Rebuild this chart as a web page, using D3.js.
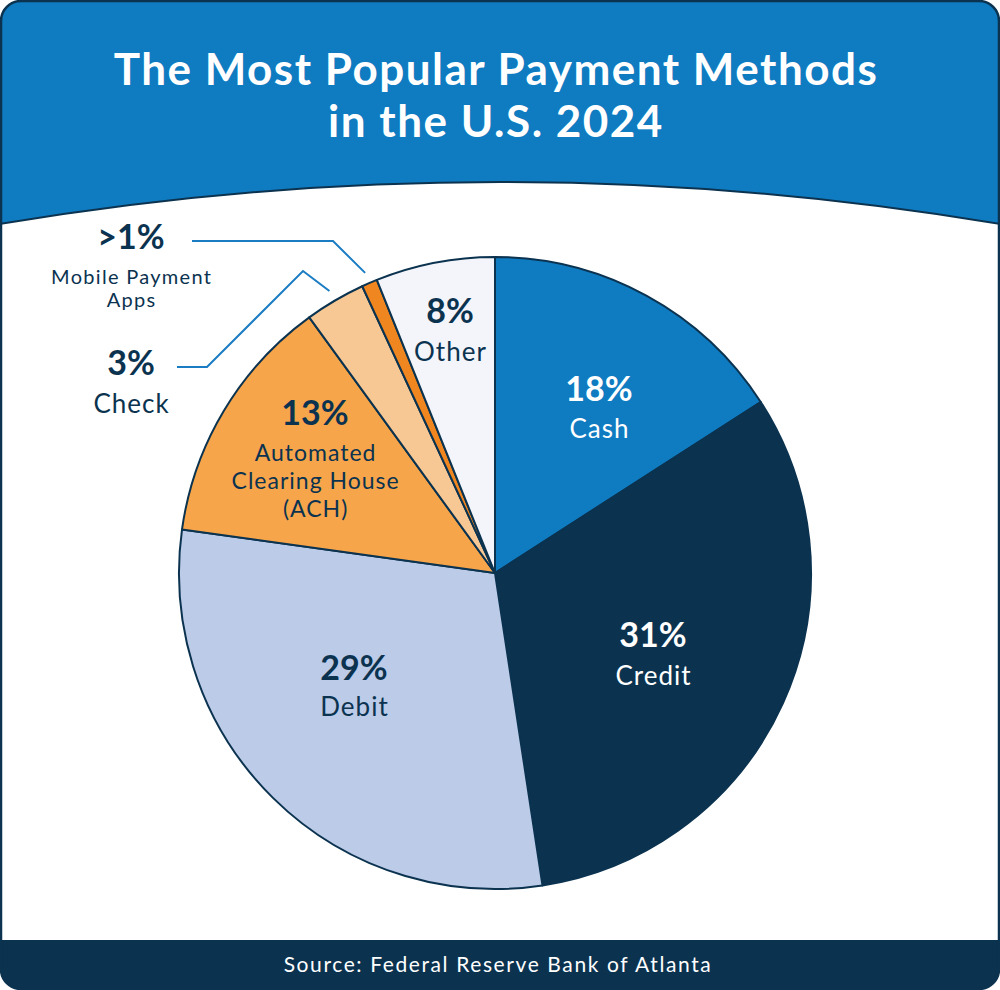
<!DOCTYPE html>
<html><head><meta charset="utf-8">
<script src="https://cdn.jsdelivr.net/npm/d3@7"></script>
<style>
html,body{margin:0;padding:0;background:#fff;}
svg{display:block;font-family:Lato, "Open Sans", sans-serif;}
</style></head>
<body>
<svg id="chart" width="1000" height="990"></svg>
<script>
// ---- data ----
const categories = ["Cash", "Credit", "Debit", "Automated Clearing House (ACH)", "Check", "Mobile Payment Apps", "Other"];
const shares = [15.9, 31.7, 29.6, 12.8, 3.1, 0.8, 6.1];          // slice sizes as drawn
const percentLabels = ["18%", "31%", "29%", "13%", "3%", ">1%", "8%"];
const nameLines = [["Cash"], ["Credit"], ["Debit"], ["Automated", "Clearing House", "(ACH)"], ["Check"], ["Mobile Payment", "Apps"], ["Other"]];
const colors = ["#0f7bc1", "#0b3350", "#bccbe8", "#f7a54a", "#f8c894", "#f0861f", "#f3f5fa"];
const titleLines = ["The Most Popular Payment Methods", "in the U.S. 2024"];
const source = "Source: Federal Reserve Bank of Atlanta";

const W = 1000, H = 990;
const navy = "#0b3350", blue = "#0f7bc1";
const svg = d3.select("#chart");

// frame + banner
svg.append("defs").append("clipPath").attr("id", "frame")
  .append("rect").attr("x", 1).attr("y", 1).attr("width", W - 2).attr("height", H - 2).attr("rx", 20);
const g0 = svg.append("g").attr("clip-path", "url(#frame)");
g0.append("rect").attr("width", W).attr("height", H).attr("fill", "#fff");
g0.append("path").attr("d", "M0,0 L1000,0 L1000,224 Q500,140 0,224 Z").attr("fill", blue);
g0.append("path").attr("d", "M0,224 Q500,140 1000,224").attr("fill", "none").attr("stroke", navy).attr("stroke-width", 2);
g0.append("rect").attr("x", 0).attr("y", 940).attr("width", W).attr("height", 60).attr("fill", navy);
svg.append("rect").attr("x", 1).attr("y", 1).attr("width", W - 2).attr("height", H - 2).attr("rx", 20)
  .attr("fill", "none").attr("stroke", navy).attr("stroke-width", 2.5);

// title
svg.append("text").attr("text-anchor", "middle").attr("fill", "#fff")
  .attr("font-size", 44).attr("font-weight", 700).attr("letter-spacing", 1.5)
  .selectAll("tspan").data(titleLines).join("tspan")
  .attr("x", 496).attr("y", (d, i) => 85 + i * 52).text(d => d);

// source
svg.append("text").attr("x", 498).attr("y", 972).attr("text-anchor", "middle")
  .attr("fill", "#fff").attr("font-size", 21).attr("letter-spacing", 1.6).text(source);

// pie
const cx = 495, cy = 573, R = 316;
const data = categories.map((c, i) => ({ name: c, value: shares[i], pct: percentLabels[i], lines: nameLines[i], color: colors[i] }));
const pie = d3.pie().value(d => d.value).sort(null);
const arcs = pie(data);
const arc = d3.arc().innerRadius(0).outerRadius(R);
const pg = svg.append("g").attr("transform", `translate(${cx},${cy})`);
pg.selectAll("path").data(arcs).join("path")
  .attr("d", arc).attr("fill", d => d.data.color)
  .attr("stroke", navy).attr("stroke-width", 2).attr("stroke-linejoin", "round");

// inside labels (positions relative to pie center)
const inside = {
  "Cash":   { x: 104, y: -172, gap: 37, c: "#fff" },
  "Credit": { x: 158, y: 74, gap: 38, c: "#fff" },
  "Debit":  { x: -141, y: 107, gap: 36, c: navy },
  "Automated Clearing House (ACH)": { x: -180, y: -148, gap: 36, c: navy },
  "Other":  { x: -45, y: -250, gap: 38, c: navy }
};
arcs.forEach(a => {
  const p = inside[a.data.name];
  if (!p) return;
  const t = pg.append("text").attr("text-anchor", "middle").attr("fill", p.c);
  t.append("tspan").attr("x", p.x).attr("y", p.y).attr("font-size", 34).attr("font-weight", 700).text(a.data.pct);
  const multi = a.data.lines.length > 1;
  a.data.lines.forEach((l, i) => {
    t.append("tspan").attr("x", p.x + (multi ? 0.6 : 0.5)).attr("y", p.y + p.gap + i * 28)
      .attr("font-size", multi ? 23 : 26).attr("letter-spacing", 1).text(l);
  });
});

// outside labels with leader lines
const outside = {
  "Check": { lx: 131, ly: 375, pts: [[177, 367], [207, 367], [303, 271]], nameSize: 26, gap: 38, ls: 1 },
  "Mobile Payment Apps": { lx: 131, ly: 249, pts: [[192, 241], [333, 241]], nameSize: 20, gap: 35, ls: 1.3 }
};
arcs.forEach(a => {
  const o = outside[a.data.name];
  if (!o) return;
  const mid = (a.startAngle + a.endAngle) / 2;
  const end = [cx + 327 * Math.sin(mid), cy - 327 * Math.cos(mid)];
  svg.append("path").attr("d", d3.line()([...o.pts, end]))
    .attr("fill", "none").attr("stroke", "#1a7cc2").attr("stroke-width", 2);
  const t = svg.append("text").attr("text-anchor", "middle").attr("fill", navy);
  t.append("tspan").attr("x", o.lx).attr("y", o.ly).attr("font-size", 34).attr("font-weight", 700).text(a.data.pct);
  a.data.lines.forEach((l, i) => {
    t.append("tspan").attr("x", o.lx + o.ls / 2).attr("y", o.ly + o.gap + i * 23)
      .attr("font-size", o.nameSize).attr("letter-spacing", o.ls).text(l);
  });
});
</script>
</body></html>
